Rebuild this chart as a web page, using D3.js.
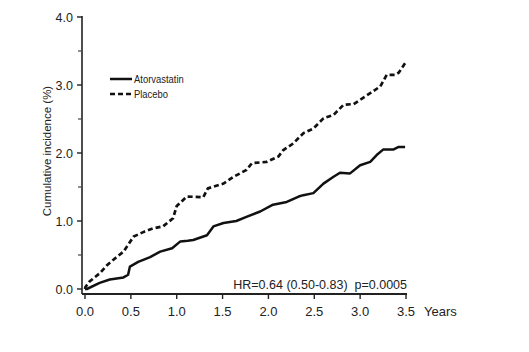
<!DOCTYPE html>
<html><head><meta charset="utf-8">
<script src="https://cdn.jsdelivr.net/npm/d3@7"></script>
<style>
body{margin:0;background:#fff;}
text{font-family:"Liberation Sans",Arial,sans-serif;fill:#222;}
</style></head>
<body><svg id="c" width="529" height="352"></svg>
<script>
const atorvaT = [0,0.02,0.16,0.27,0.42,0.47,0.49,0.58,0.71,0.82,0.95,1.04,1.12,1.18,1.33,1.40,1.51,1.65,1.76,1.91,2.05,2.20,2.33,2.38,2.49,2.60,2.71,2.78,2.89,3.00,3.11,3.18,3.25,3.36,3.42,3.49];
const atorvaV = [0,0.00,0.09,0.14,0.17,0.21,0.33,0.40,0.47,0.55,0.60,0.70,0.71,0.72,0.79,0.92,0.97,1.00,1.06,1.14,1.24,1.28,1.36,1.38,1.41,1.55,1.65,1.71,1.70,1.82,1.87,1.97,2.05,2.05,2.09,2.09];
const placeboT = [0,0.005,0.05,0.16,0.24,0.31,0.42,0.53,0.64,0.74,0.85,0.96,1.00,1.11,1.29,1.34,1.51,1.62,1.76,1.82,1.98,2.11,2.16,2.27,2.38,2.49,2.60,2.71,2.82,2.93,3.02,3.11,3.22,3.29,3.38,3.42,3.49];
const placeboV = [0,0.03,0.11,0.23,0.35,0.43,0.55,0.77,0.84,0.89,0.92,1.04,1.22,1.36,1.35,1.48,1.55,1.65,1.75,1.85,1.87,1.95,2.04,2.14,2.29,2.36,2.51,2.56,2.71,2.72,2.80,2.88,2.98,3.15,3.15,3.18,3.32];
const xTicks = [0,0.5,1.0,1.5,2.0,2.5,3.0,3.5];
const yMajor = [0,1,2,3,4];
const yMinor = [0.5,1.5,2.5,3.5];
const seriesNames = ["Atorvastatin","Placebo"];
const hrText = "HR=0.64 (0.50-0.83)  p=0.0005";

const svg = d3.select("#c");
const x = d3.scaleLinear().domain([0,3.5]).range([85,406]);
const y = d3.scaleLinear().domain([0,4]).range([289,17]);

// y axis
const ya = svg.append("g").attr("transform","translate(82,0)");
ya.append("line").attr("x1",0).attr("x2",0).attr("y1",y(4)-1).attr("y2",294).attr("stroke","#222").attr("stroke-width",1.6);
ya.selectAll(".mj").data(yMajor).join("line").attr("x1",-5).attr("x2",0).attr("y1",d=>y(d)).attr("y2",d=>y(d)).attr("stroke","#222").attr("stroke-width",1.4);
ya.selectAll(".mn").data(yMinor).join("line").attr("class","mn").attr("x1",-4).attr("x2",0).attr("y1",d=>y(d)).attr("y2",d=>y(d)).attr("stroke","#444").attr("stroke-width",1.2);
ya.selectAll("text").data(yMajor).join("text").attr("x",-9).attr("y",d=>y(d)+4.5).attr("text-anchor","end").attr("font-size",12.5).text(d=>d3.format(".1f")(d));

// x axis
const xa = svg.append("g").attr("transform","translate(0,294)");
xa.append("line").attr("x1",82).attr("x2",x(3.5)+1).attr("y1",0).attr("y2",0).attr("stroke","#222").attr("stroke-width",2);
xa.selectAll("line.t").data(xTicks).join("line").attr("class","t").attr("x1",d=>x(d)).attr("x2",d=>x(d)).attr("y1",0).attr("y2",5).attr("stroke","#222").attr("stroke-width",1.4);
xa.selectAll("text").data(xTicks).join("text").attr("x",d=>x(d)).attr("y",22).attr("text-anchor","middle").attr("font-size",13).text(d=>d3.format(".1f")(d));
xa.append("text").attr("x",x(3.5)+18).attr("y",22).attr("font-size",13).text("Years");

// y label
svg.append("text").attr("transform","translate(51,151) rotate(-90)").attr("text-anchor","middle").attr("font-size",11.5).text("Cumulative incidence (%)");

// lines
const line = d3.line().x(d=>x(d[0])).y(d=>y(d[1])).curve(d3.curveLinear);
const aData = atorvaT.map((t,i)=>[t,atorvaV[i]]);
const pData = placeboT.map((t,i)=>[t,placeboV[i]]);
svg.append("path").attr("d",line(aData)).attr("fill","none").attr("stroke","#111").attr("stroke-width",2.5).attr("stroke-linejoin","round");
svg.append("path").attr("d",line(pData)).attr("fill","none").attr("stroke","#111").attr("stroke-width",2.7).attr("stroke-dasharray","5,3");

// legend
const lg = svg.append("g");
[0,1].forEach(i=>{
  const yy = 79 + i*15;
  lg.append("line").attr("x1",110).attr("x2",132).attr("y1",yy).attr("y2",yy).attr("stroke","#111").attr("stroke-width",2.5).attr("stroke-dasharray",i?"5,3":null);
  lg.append("text").attr("transform",`translate(134,${yy+4}) scale(0.82,1)`).attr("font-size",11.5).text(seriesNames[i]);
});

svg.append("text").attr("x",407).attr("y",289).attr("text-anchor","end").attr("font-size",12.5).style("white-space","pre").text(hrText);
</script></body></html>
